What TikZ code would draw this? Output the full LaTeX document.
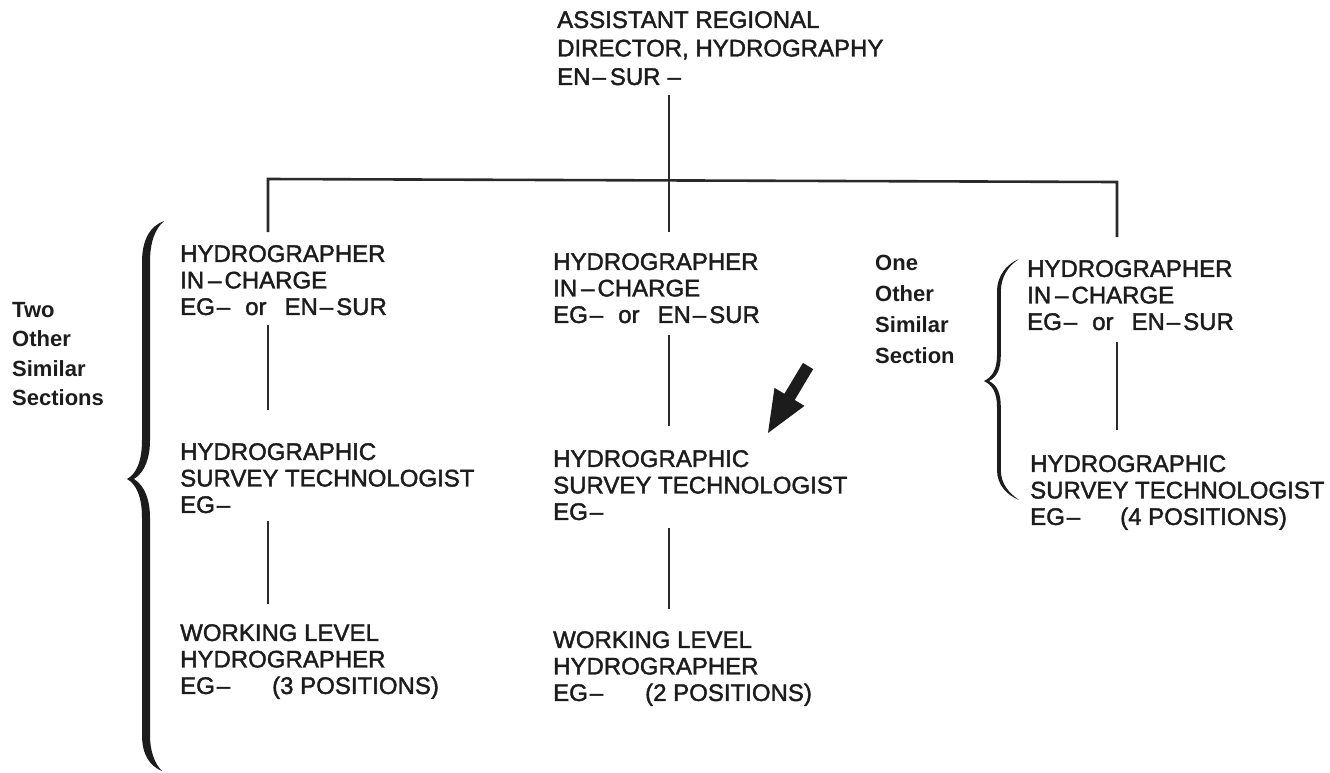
\documentclass[tikz,border=0pt]{standalone}
\usepackage{fontspec}
\setmainfont{Liberation Sans}
\newfontfamily\postfont{Liberation Sans}[FakeBold=1.7]
\definecolor{ink}{HTML}{1C1C1C}
\definecolor{linecol}{HTML}{2A2A2A}
\newcommand{\egdash}{EG\kern2pt–}
\newcommand{\ensur}{EN\kern2pt–\kern3pt SUR}
\newcommand{\egoren}{\egdash\hspace{15pt}or\hspace{18pt}\ensur}
\begin{document}
\begin{tikzpicture}[x=1pt, y=-1pt,
  conn/.style={draw=linecol, line width=2pt},
  busbar/.style={draw=linecol, line width=2.6pt, line join=miter},
  post/.style={anchor=north west, inner sep=0pt, align=left,
    font=\postfont\fontsize{24}{26.5}\selectfont, text=ink},
  toppost/.style={post, font=\postfont\fontsize{24}{28.5}\selectfont},
  sidenote/.style={anchor=north west, inner sep=0pt, align=left,
    font=\bfseries\fontsize{22}{29.5}\selectfont, text=ink},
  bracefill/.style={fill=ink, draw=none}]

\useasboundingbox (0,0) rectangle (1330,772);

% head of the hydrography group
\node[toppost] (ard) at (557,11)
  {ASSISTANT REGIONAL\\DIRECTOR, HYDROGRAPHY\\EN\kern2pt–\kern4pt SUR\kern7pt–};

% left section
\node[post] (hicL) at (180,245) {HYDROGRAPHER\\IN\kern4pt–\kern3pt CHARGE\\\egoren};
\node[post] (hstL) at (180,443) {HYDROGRAPHIC\\SURVEY TECHNOLOGIST\\\egdash};
\node[post] (wlhL) at (180,624) {WORKING LEVEL\\HYDROGRAPHER\\\makebox[92pt][l]{\egdash}(3 POSITIONS)};

% centre section
\node[post] (hicC) at (553,253) {HYDROGRAPHER\\IN\kern4pt–\kern3pt CHARGE\\\egoren};
\node[post] (hstC) at (553,450) {HYDROGRAPHIC\\SURVEY TECHNOLOGIST\\\egdash};
\node[post] (wlhC) at (553,631) {WORKING LEVEL\\HYDROGRAPHER\\\makebox[92pt][l]{\egdash}(2 POSITIONS)};

% right section
\node[post] (hicR) at (1027,260) {HYDROGRAPHER\\IN\kern4pt–\kern3pt CHARGE\\\egoren};
\node[post] (hstR) at (1030,455) {HYDROGRAPHIC\\SURVEY TECHNOLOGIST\\\makebox[90pt][l]{\egdash}(4 POSITIONS)};

% side notes
\node[sidenote] (twoL) at (12,302) {Two\\Other\\Similar\\Sections};
\node[sidenote, font=\bfseries\fontsize{22}{31}\selectfont] (oneR) at (875,255)
  {One\\Other\\Similar\\Section};

% junctions on the bus bar
\coordinate (jL) at (268,179);
\coordinate (jC) at (669,180);
\coordinate (jR) at (1117,182);

% bus bar with its two outer drops
\draw[busbar, shorten <=13pt, shorten >=23pt]
  (hicL.north -| jL) -- (jL) -- (jR) -- (hicR.north -| jR);
\draw[conn, shorten <=10pt] (ard.south -| jC) -- (jC);
\draw[conn, shorten >=21pt] (jC) -- (hicC.north -| jC);

% drops inside each section
\draw[conn, shorten <=10pt, shorten >=33pt] (hicL.south -| jL) -- (hstL.north -| jL);
\draw[conn, shorten <=8pt, shorten >=20pt] (hstL.south -| jL) -- (wlhL.north -| jL);
\draw[conn, shorten <=12pt, shorten >=24pt] (hicC.south -| jC) -- (hstC.north -| jC);
\draw[conn, shorten <=8pt, shorten >=22pt] (hstC.south -| jC) -- (wlhC.north -| jC);
\draw[conn, shorten <=12pt, shorten >=25pt] (hicR.south -| jR) -- (hstR.north -| jR);

% large brace grouping the left section
\fill[bracefill]
  (164,221) .. controls (150,226) and (142,240) .. (142,262)
  -- (142,440) .. controls (142,462) and (136,474) .. (127,479)
  .. controls (136,484) and (142,496) .. (142,518)
  -- (142,735) .. controls (142,755) and (150,766) .. (162,771)
  .. controls (155,764) and (150,752) .. (150,735)
  -- (150,518) .. controls (150,500) and (145,486) .. (134,479)
  .. controls (145,472) and (150,458) .. (150,440)
  -- (150,262) .. controls (150,242) and (155,229) .. (164,221) -- cycle;

% smaller brace grouping the right section
\fill[bracefill]
  (1019,259) .. controls (1007,264) and (997,275) .. (997,292)
  -- (997,355) .. controls (997,370) and (992,377) .. (984,381)
  .. controls (992,385) and (997,392) .. (997,407)
  -- (997,470) .. controls (997,485) and (1007,495) .. (1019,500)
  .. controls (1009,493) and (1000.8,484) .. (1000.8,470)
  -- (1000.8,407) .. controls (1000.8,393) and (997,385) .. (989,381)
  .. controls (997,377) and (1000.8,369) .. (1000.8,355)
  -- (1000.8,292) .. controls (1000.8,277) and (1008,266) .. (1019,259) -- cycle;

% pointer arrow
\fill[ink] (802.9,362.9) -- (813.2,369.1) -- (794.7,400.0) -- (804.5,405.9)
  -- (768,433) -- (774.5,387.9) -- (784.4,393.8) -- cycle;

\end{tikzpicture}
\end{document}
